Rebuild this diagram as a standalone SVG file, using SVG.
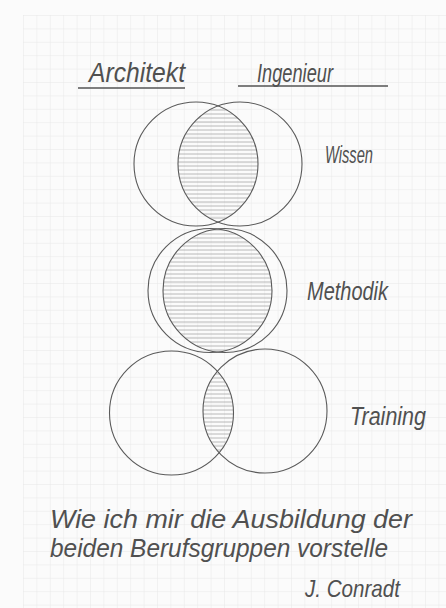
<svg xmlns="http://www.w3.org/2000/svg" width="446" height="608" viewBox="0 0 446 608">
<style>
.c{fill:none;stroke:#5a5a5a;stroke-width:1.1}
.t{font-family:"Liberation Sans","DejaVu Sans",sans-serif;font-style:italic;fill:#505050}
.u{stroke:#555;stroke-width:1.3}
</style>
<defs>
<pattern id="grid" x="23" y="15" width="13.4" height="13.4" patternUnits="userSpaceOnUse">
<path d="M0 0H13.4M0 0V13.4" fill="none" stroke="#e8e8e8" stroke-width="1"/>
</pattern>
<pattern id="hatch" x="0" y="0" width="8" height="4" patternUnits="userSpaceOnUse">
<line x1="0" y1="2" x2="8" y2="2" stroke="#b0b0b0" stroke-width="0.9"/>
</pattern>
<clipPath id="wL"><circle cx="196" cy="164" r="62"/></clipPath>
<clipPath id="wR"><circle cx="240" cy="164" r="62"/></clipPath>
<clipPath id="mL"><circle cx="210" cy="290.5" r="62"/></clipPath>
<clipPath id="mR"><circle cx="225" cy="290.5" r="62"/></clipPath>
<clipPath id="tL"><circle cx="171.5" cy="413" r="62"/></clipPath>
<clipPath id="tR"><circle cx="265" cy="411" r="62"/></clipPath>
</defs>
<rect width="446" height="608" fill="#fbfbfb"/>
<rect x="23" y="15" width="423" height="593" fill="url(#grid)"/>

<g id="header">
<text class="t" x="89" y="82" font-size="28" textLength="96" lengthAdjust="spacingAndGlyphs">Architekt</text>
<line class="u" x1="78" y1="88" x2="185" y2="88"/>
<text class="t" x="257" y="82" font-size="26" textLength="76" lengthAdjust="spacingAndGlyphs">Ingenieur</text>
<line class="u" x1="238" y1="86" x2="388" y2="86"/>
</g>

<g id="wissen">
<g clip-path="url(#wL)"><rect x="130" y="100" width="180" height="130" fill="url(#hatch)" clip-path="url(#wR)"/></g>
<circle class="c" cx="196" cy="164" r="62"/>
<circle class="c" cx="240" cy="164" r="62"/>
<text class="t" x="325" y="163" font-size="24" textLength="48" lengthAdjust="spacingAndGlyphs">Wissen</text>
</g>

<g id="methodik">
<g clip-path="url(#mL)"><rect x="140" y="225" width="160" height="130" fill="url(#hatch)" clip-path="url(#mR)"/></g>
<circle class="c" cx="210" cy="290.5" r="62"/>
<circle class="c" cx="225" cy="290.5" r="62"/>
<text class="t" x="307" y="300" font-size="26" textLength="81" lengthAdjust="spacingAndGlyphs">Methodik</text>
</g>

<g id="training">
<g clip-path="url(#tL)"><rect x="100" y="345" width="240" height="135" fill="url(#hatch)" clip-path="url(#tR)"/></g>
<circle class="c" cx="171.5" cy="413" r="62"/>
<circle class="c" cx="265" cy="411" r="62"/>
<text class="t" x="350" y="425" font-size="26" textLength="76" lengthAdjust="spacingAndGlyphs">Training</text>
</g>

<g id="caption">
<text class="t" x="50" y="528" font-size="26" textLength="362" lengthAdjust="spacingAndGlyphs">Wie ich mir die Ausbildung der</text>
<text class="t" x="50" y="557" font-size="26" textLength="338" lengthAdjust="spacingAndGlyphs">beiden Berufsgruppen vorstelle</text>
<text class="t" x="305" y="597" font-size="24" textLength="95" lengthAdjust="spacingAndGlyphs">J. Conradt</text>
</g>

<g id="connectors"/>
</svg>
